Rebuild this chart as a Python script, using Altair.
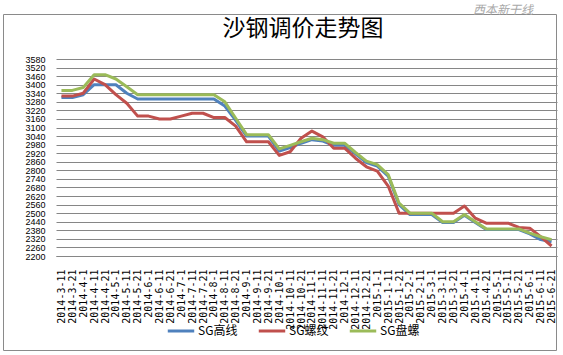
import altair as alt
import pandas as pd

categories = [
    "2014-3-11", "2014-3-21", "2014-4-1", "2014-4-11", "2014-4-21", "2014-5-1",
    "2014-5-11", "2014-5-21", "2014-6-1", "2014-6-11", "2014-6-21", "2014-7-1",
    "2014-7-11", "2014-7-21", "2014-8-1", "2014-8-11", "2014-8-21", "2014-9-1",
    "2014-9-11", "2014-9-21", "2014-10-1", "2014-10-11", "2014-10-21", "2014-11-1",
    "2014-11-11", "2014-11-21", "2014-12-1", "2014-12-11", "2014-12-21", "2015-1-1",
    "2015-1-11", "2015-1-21", "2015-2-1", "2015-2-11", "2015-3-1",
    "2015-3-11", "2015-3-21", "2015-4-1", "2015-4-11", "2015-4-21", "2015-5-1",
    "2015-5-11", "2015-5-21", "2015-6-1", "2015-6-11", "2015-6-21",
]

sg_gaoxian = [3310, 3310, 3330, 3400, 3400, 3400, 3340, 3300, 3300, 3300, 3300, 3300,
              3300, 3300, 3300, 3250, 3150, 3040, 3040, 3040, 2935, 2960, 2990, 3015,
              3005, 2975, 2975, 2915, 2855, 2830, 2760, 2560, 2490, 2490, 2490, 2435,
              2435, 2485, 2435, 2385, 2385, 2385, 2385, 2355, 2315, 2300]
sg_luowen = [3320, 3320, 3340, 3440, 3400, 3330, 3270, 3180, 3180, 3160, 3160, 3180,
             3200, 3200, 3170, 3170, 3110, 3000, 3000, 3000, 2905, 2930, 3025, 3075,
             3035, 2955, 2955, 2885, 2825, 2795, 2690, 2500, 2500, 2500, 2500, 2500,
             2500, 2550, 2465, 2430, 2430, 2430, 2400, 2395, 2335, 2270]
sg_panluo = [3360, 3360, 3380, 3470, 3470, 3440, 3385, 3330, 3330, 3330, 3330, 3330,
             3330, 3330, 3330, 3280, 3165, 3050, 3050, 3050, 2950, 2975, 3000, 3025,
             3015, 2990, 2990, 2925, 2865, 2840, 2770, 2570, 2500, 2500, 2500, 2440,
             2440, 2490, 2440, 2390, 2390, 2390, 2390, 2360, 2335, 2315]

series_names = ["SG高线", "SG螺纹", "SG盘螺"]
series_colors = ["#4F81BD", "#C0504D", "#9BBB59"]
y_ticks = list(range(2200, 3581, 60))
title_text = "沙钢调价走势图"
logo_text = "西本新干线"

rows = []
for name, vals in zip(series_names, [sg_gaoxian, sg_luowen, sg_panluo]):
    for c, v in zip(categories, vals):
        rows.append({"date": c, "series": name, "price": v})
df = pd.DataFrame(rows)

W, H = 501, 197

x_enc = alt.X(
    "date:N", sort=categories,
    scale=alt.Scale(padding=0.5),
    axis=alt.Axis(title=None, labelAngle=270, labelFont="DejaVu Sans Mono",
                  labelFontSize=10, labelColor="#000000", labelPadding=13,
                  ticks=False, domain=True, domainColor="#868686", grid=False,
                  labelOverlap=False),
)
y_enc = alt.Y(
    "price:Q",
    scale=alt.Scale(domain=[2200, 3580], nice=False, zero=False),
    axis=alt.Axis(title=None, values=y_ticks, format="d", labelFont="Liberation Sans",
                  labelFontSize=9, labelColor="#000000", labelPadding=11,
                  ticks=False, domain=False, grid=True, gridColor="#868686",
                  gridWidth=1, labelOverlap=False),
)
color_enc = alt.Color(
    "series:N",
    scale=alt.Scale(domain=series_names, range=series_colors),
    legend=alt.Legend(title=None, orient="none", legendX=110, legendY=257,
                      direction="horizontal", symbolType="stroke",
                      symbolStrokeWidth=3, symbolSize=700,
                      labelFont="Noto Sans CJK SC", labelFontSize=12,
                      labelColor="#000000", columnPadding=14, labelOffset=2),
)

layers = []
frame = alt.Chart(pd.DataFrame({"f": [0]})).mark_rect(
    filled=False, stroke="#8a8a8a", strokeWidth=1
).encode(x=alt.value(-52.5), x2=alt.value(500.5), y=alt.value(-44.5), y2=alt.value(291.5))
layers.append(frame)

for name in series_names:
    layers.append(
        alt.Chart(df).transform_filter(alt.datum.series == name)
        .mark_line(strokeWidth=3, strokeJoin="round")
        .encode(x=x_enc, y=y_enc, color=color_enc)
    )

title = alt.Chart(pd.DataFrame({"t": [title_text]})).mark_text(
    font="Noto Sans CJK SC", fontSize=23, color="#000000",
    align="center", baseline="middle"
).encode(text="t:N", x=alt.value(247), y=alt.value(-30.5))
layers.append(title)

logo = alt.Chart(pd.DataFrame({"t": [logo_text]})).mark_text(
    font="Noto Sans CJK SC", fontSize=12, fontStyle="italic", color="#a8a8a8",
    align="center", baseline="middle"
).encode(text="t:N", x=alt.value(447), y=alt.value(-49))
layers.append(logo)

chart = alt.layer(*layers).properties(
    width=W, height=H,
    autosize=alt.AutoSizeParams(type="none"),
    padding={"left": 56, "top": 59, "right": 563 - 56 - W, "bottom": 355 - 59 - H},
    background="#ffffff",
).configure_view(stroke=None)

chart.save("out.html", embed_options={"renderer": "svg", "actions": False})
